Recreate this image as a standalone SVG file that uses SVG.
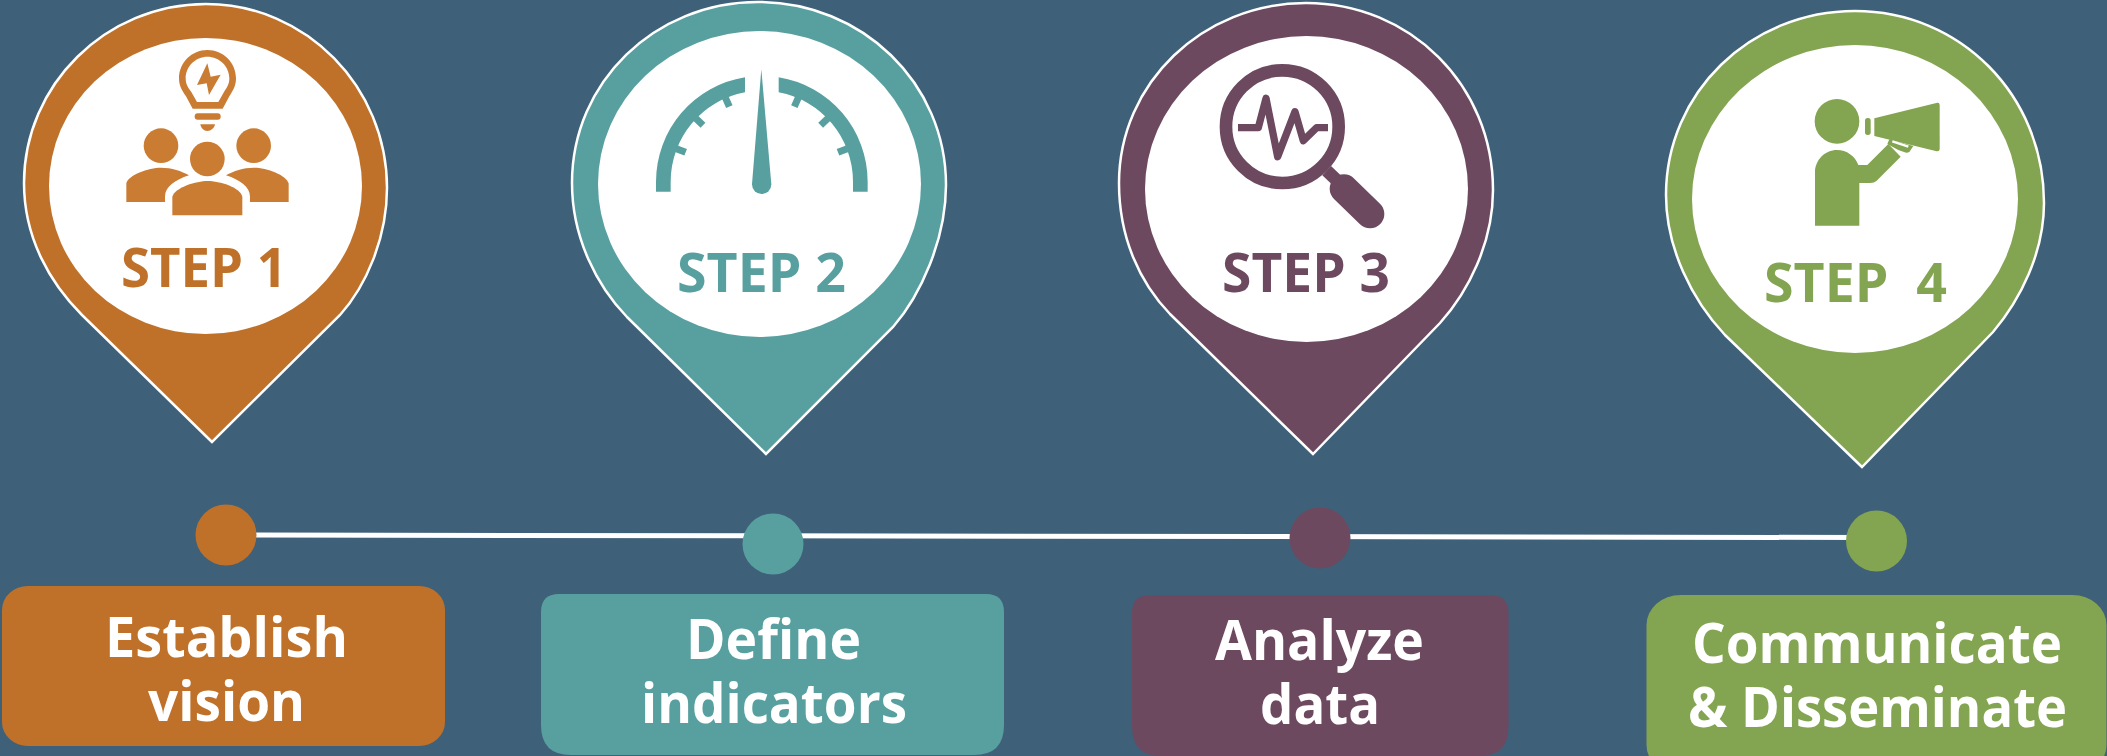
<svg xmlns="http://www.w3.org/2000/svg" width="2107" height="756" viewBox="0 0 2107 756">
<style>
.pin{stroke:#fff;stroke-width:2.5;stroke-linejoin:miter}
.in{fill:#fff}
.brown{fill:#BF7129}.teal{fill:#58A0A0}.plum{fill:#6D4960}.green{fill:#83A450}
.step{font-family:"Open Sans","Noto Sans",sans-serif;font-weight:700;font-size:54px;white-space:pre}
.lab{font-family:"Open Sans","Noto Sans",sans-serif;font-weight:700;font-size:55px;fill:#fff}
.tick{stroke:#58A0A0;stroke-width:21;fill:none}
</style>
<rect width="2107" height="756" fill="#3F6079"/>
<g id="connectors">
<path d="M240,535 L1860,537.500" stroke="#fff" stroke-width="5" fill="none"/>
</g>
<g id="step1">
<path class="pin brown" d="M212,442 L82,315 C50,283 24,238 24,183 C24,85 106,4 206,4 C306,4 387,87 387,188 C387,238 366,286 340,315 Z"/>
<ellipse class="in" cx="205.5" cy="186" rx="156.5" ry="148"/>
<g transform="scale(.33333)" fill="#CB7C33">
<path fill-rule="evenodd" d="M622,150 C575,150 537,188 537,235 C537,258 546,272 558,289 L578,326 L668,326 L688,289 C699,272 708,258 708,235 C708,188 670,150 622,150 Z M622,170 C658,170 688,199 688,235 C688,252 681,263 672,276 L655,306 L591,306 L574,276 C564,263 557,252 557,235 C557,199 587,170 622,170 Z"/>
<path d="M622,190 L591,255 L620,250 L627,285 L662,224 L632,230 Z"/>
<rect x="584" y="340" width="78" height="19" rx="9"/>
<path d="M601,373 H645 C643,385 633,393 622,393 C611,393 603,385 601,373 Z"/>
<circle cx="483" cy="437" r="52"/><circle cx="761" cy="437" r="52"/><circle cx="622" cy="477" r="52"/>
<path d="M379,606 V550 C385,525 445,503 483,503 C515,503 545,513 567,526 C525,540 495,560 495,590 V606 Z"/>
<path d="M866,606 V550 C860,525 800,503 761,503 C730,503 700,513 678,526 C720,540 750,560 750,590 V606 Z"/>
<path d="M517,646 V590 C525,562 590,543 622,543 C660,543 720,562 727,590 V646 Z"/>
</g>
<text class="step" x="121" y="287" fill="#BF7129" textLength="166" lengthAdjust="spacingAndGlyphs">STEP 1</text>
</g>
<g id="step2">
<path class="pin teal" d="M766,454 L627,317 C597,286 572,238 572,183 C572,82 655,2 758,2 C862,2 946,83 946,185 C946,240 920,296 893,327 Z"/>
<ellipse class="in" cx="759.5" cy="184" rx="161.5" ry="153"/>
<g transform="translate(550,0) scale(.33333)" class="teal">
<path d="M318,575 V545 A317,317 0 0 1 585,232 V277 A273,273 0 0 0 362,545 V575 Z"/>
<path d="M953,575 V545 A317,317 0 0 0 686,232 V277 A273,273 0 0 1 909,545 V575 Z"/>
<path class="tick" d="M379,446 L407,457 M437,355 L459,376 M526,293 L538,320 M892,446 L864,457 M834,355 L812,376 M745,293 L733,320"/>
<path d="M634,208 L606,553 A29,29 0 0 0 664,553 Z"/>
</g>
<text class="step" x="677" y="292" fill="#58A0A0" textLength="169" lengthAdjust="spacingAndGlyphs">STEP 2</text>
</g>
<g id="step3">
<path class="pin plum" d="M1313,454 L1170,314 C1140,283 1119,238 1119,183 C1119,83 1203,3 1306,3 C1410,3 1493,85 1493,190 C1493,243 1468,292 1440,323 Z"/>
<ellipse class="in" cx="1306.5" cy="189" rx="161.5" ry="153"/>
<g transform="translate(1100,0) scale(.33333)" fill="none" stroke="#6D4960">
<circle cx="547" cy="380" r="169" stroke-width="38"/>
<path d="M414,383 H475 L498,295 L533,470 L585,335 L610,422 L650,383 H684" stroke-width="22" stroke-linejoin="round"/>
<path d="M680,512 L720,550" stroke-width="38"/>
<path d="M732,566 L810,642" stroke-width="86" stroke-linecap="round"/>
</g>
<text class="step" x="1222" y="292" fill="#6D4960" textLength="168" lengthAdjust="spacingAndGlyphs">STEP 3</text>
</g>
<g id="step4">
<path class="pin green" d="M1862,467 L1725,335 C1692,300 1666,248 1666,195 C1666,93 1750,11 1855,11 C1960,11 2044,95 2044,203 C2044,253 2020,300 1993,332 Z"/>
<ellipse class="in" cx="1855" cy="199" rx="163" ry="154"/>
<g transform="translate(1650,0) scale(.33333)" class="green">
<circle cx="561" cy="364" r="67"/>
<path d="M495,677 V517 C495,480 525,450 561,450 C590,450 615,468 625,495 H652 L715,432 L752,470 L680,542 Q673,549 660,549 H628 V677 Z"/>
<path d="M673,355 L862,308 Q869,307 869,315 V447 Q869,455 860,454 L673,408 Z"/>
<rect x="645" y="354" width="17" height="51" rx="8"/>
<path d="M712,432 L718,418 L790,438 L778,456 Q770,460 762,456 L745,450 Z"/>
<path d="M727,424 L775,440" stroke="#fff" stroke-width="7" fill="none"/>
</g>
<text class="step" x="1764" y="302" fill="#83A450" textLength="183" lengthAdjust="spacingAndGlyphs">STEP  4</text>
</g>
<g id="dot1"><circle class="brown" cx="226" cy="535" r="30.5"/></g>
<g id="dot2"><circle class="teal" cx="773" cy="544" r="30.5"/></g>
<g id="dot3"><circle class="plum" cx="1320" cy="538" r="30.5"/></g>
<g id="dot4"><circle class="green" cx="1876.5" cy="541" r="30.5"/></g>
<g id="label1">
<rect class="brown" x="2" y="586" width="443" height="160" rx="26" ry="24"/>
<text class="lab" x="105" y="657" textLength="243" lengthAdjust="spacingAndGlyphs">Establish</text>
<text class="lab" x="148" y="721" textLength="157" lengthAdjust="spacingAndGlyphs">vision</text>
</g>
<g id="label2">
<path class="teal" d="M559,594 H986 Q1004,594 1004,612 V725 Q1004,755 974,755 H571 Q541,755 541,725 V612 Q541,594 559,594 Z"/>
<text class="lab" x="686" y="659" textLength="175" lengthAdjust="spacingAndGlyphs">Define</text>
<text class="lab" x="641" y="723" textLength="266" lengthAdjust="spacingAndGlyphs">indicators</text>
</g>
<g id="label3">
<path class="plum" d="M1150,595 H1490 Q1508.500,595 1508.500,613 V726 Q1508.500,756 1480,756 H1160 Q1132,756 1132,726 V613 Q1132,595 1150,595 Z"/>
<text class="lab" x="1215" y="660" textLength="209" lengthAdjust="spacingAndGlyphs">Analyze</text>
<text class="lab" x="1260" y="724" textLength="120" lengthAdjust="spacingAndGlyphs">data</text>
</g>
<g id="label4">
<rect class="green" x="1646.500" y="595" width="460" height="180" rx="34" ry="30"/>
<text class="lab" x="1692" y="663" textLength="370" lengthAdjust="spacingAndGlyphs">Communicate</text>
<text class="lab" x="1688" y="727" textLength="379" lengthAdjust="spacingAndGlyphs">&amp; Disseminate</text>
</g>
</svg>
